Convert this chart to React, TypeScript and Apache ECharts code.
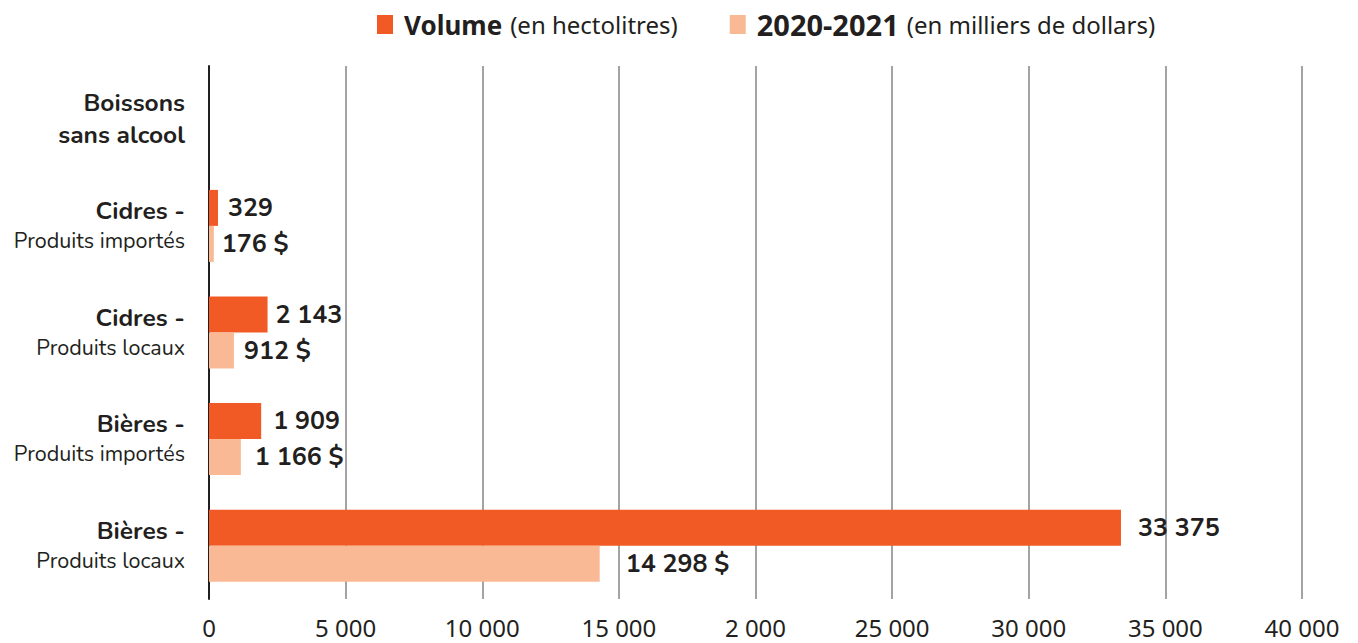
import React, { useEffect, useRef } from "react";
import * as echarts from "echarts";

const categoryTitles = ["Boissons\nsans alcool", "Cidres -", "Cidres -", "Bières -", "Bières -"];
const categorySubtitles = ["", "Produits importés", "Produits locaux", "Produits importés", "Produits locaux"];
const volumeValues: (number | null)[] = [null, 329, 2143, 1909, 33375];
const valueValues: (number | null)[] = [null, 176, 912, 1166, 14298];
const tickLabels = ["0", "5 000", "10 000", "15 000", "2 000", "25 000", "30 000", "35 000", "40 000"];
const seriesNames = ["Volume", "2020-2021"];
const seriesUnits = ["(en hectolitres)", "(en milliers de dollars)"];

const volumeLabelDistance = [10, 10, 8, 12, 17];
const valueLabelDistance = [10, 8, 10, 14, 26];

const ORANGE = "#F15A24";
const PEACH = "#F9B995";
const TEXT = "#231F20";
const MAIN = "Nunito, Lato, 'Noto Sans', sans-serif";
const TICK = "'Noto Sans', sans-serif";

const fmt = (v: number) => String(v).replace(/\B(?=(\d{3})+(?!\d))/g, " ");

export default function App() {
  const ref = useRef<HTMLDivElement>(null);
  useEffect(() => {
    if (!ref.current) return;
    const chart = echarts.init(ref.current, null, { renderer: "svg" });
    const cats = categoryTitles.map((t, i) => `${i}`);
    chart.setOption({
      animation: false,
      legend: {
        top: 5,
        left: 372,
        itemWidth: 16,
        itemHeight: 19,
        itemGap: 52,
        icon: "rect",
        data: seriesNames,
        formatter: (name: string) => {
          const i = seriesNames.indexOf(name);
          return `{${i === 0 ? "b" : "c"}|${name}}{n|${seriesUnits[i]}}`;
        },
        textStyle: {
          padding: [0, 0, 0, 6],
          rich: {
            b: { fontFamily: TICK, fontWeight: "bold", fontSize: 26, color: TEXT, padding: [0, 8, 0, 0] },
            c: { fontFamily: TICK, fontWeight: "bold", fontSize: 29, color: TEXT, padding: [0, 8, 0, 0] },
            n: { fontFamily: TICK, fontSize: 24, color: TEXT },
          },
        },
      },
      grid: { left: 209, right: 56, top: 66, bottom: 44, containLabel: false },
      xAxis: {
        type: "value",
        min: 0,
        max: 40000,
        interval: 5000,
        axisLine: { show: false },
        axisTick: { show: false },
        splitLine: { show: true, lineStyle: { color: "#A3A3A3", width: 2 } },
        axisLabel: {
          margin: 16,
          fontFamily: TICK,
          fontSize: 24,
          color: TEXT,
          formatter: (v: number) => tickLabels[Math.round(v / 5000)] ?? "",
        },
      },
      yAxis: {
        type: "category",
        inverse: true,
        data: cats,
        axisLine: { show: true, lineStyle: { color: TEXT, width: 2 } },
        axisTick: { show: false },
        axisLabel: {
          margin: 24,
          align: "right",
          formatter: (v: string) => {
            const i = Number(v);
            if (!categorySubtitles[i]) {
              return categoryTitles[i].split("\n").map((s) => `{u|${s}}`).join("\n");
            }
            return `{t|${categoryTitles[i]}}\n{s|${categorySubtitles[i]}}`;
          },
          rich: {
            t: { fontFamily: MAIN, fontWeight: "bold", fontSize: 24.5, color: TEXT, lineHeight: 30, align: "right" },
            u: { fontFamily: MAIN, fontWeight: "bold", fontSize: 24.5, color: TEXT, lineHeight: 32, align: "right" },
            s: { fontFamily: MAIN, fontSize: 21.5, color: TEXT, lineHeight: 30, align: "right" },
          },
        },
      },
      series: [
        {
          name: seriesNames[0],
          type: "bar",
          barWidth: 36,
          barGap: "0%",
          itemStyle: { color: ORANGE },
          data: volumeValues.map((v, i) => ({
            value: v,
            label: { distance: volumeLabelDistance[i] },
          })),
          label: {
            show: true,
            position: "right",
            fontFamily: MAIN,
            fontWeight: "bold",
            fontSize: 25,
            color: TEXT,
            formatter: (p: any) => (p.value == null ? "" : fmt(p.value)),
          },
        },
        {
          name: seriesNames[1],
          type: "bar",
          barWidth: 36,
          barGap: "0%",
          itemStyle: { color: PEACH },
          data: valueValues.map((v, i) => ({
            value: v,
            label: { distance: valueLabelDistance[i] },
          })),
          label: {
            show: true,
            position: "right",
            fontFamily: MAIN,
            fontWeight: "bold",
            fontSize: 25,
            color: TEXT,
            formatter: (p: any) => (p.value == null ? "" : fmt(p.value) + " $"),
          },
        },
      ],
    });
    return () => chart.dispose();
  }, []);
  return (
    <div
      ref={ref}
      style={{ position: "fixed", left: 0, top: 0, width: 1358, height: 643, background: "#fff" }}
    />
  );
}
